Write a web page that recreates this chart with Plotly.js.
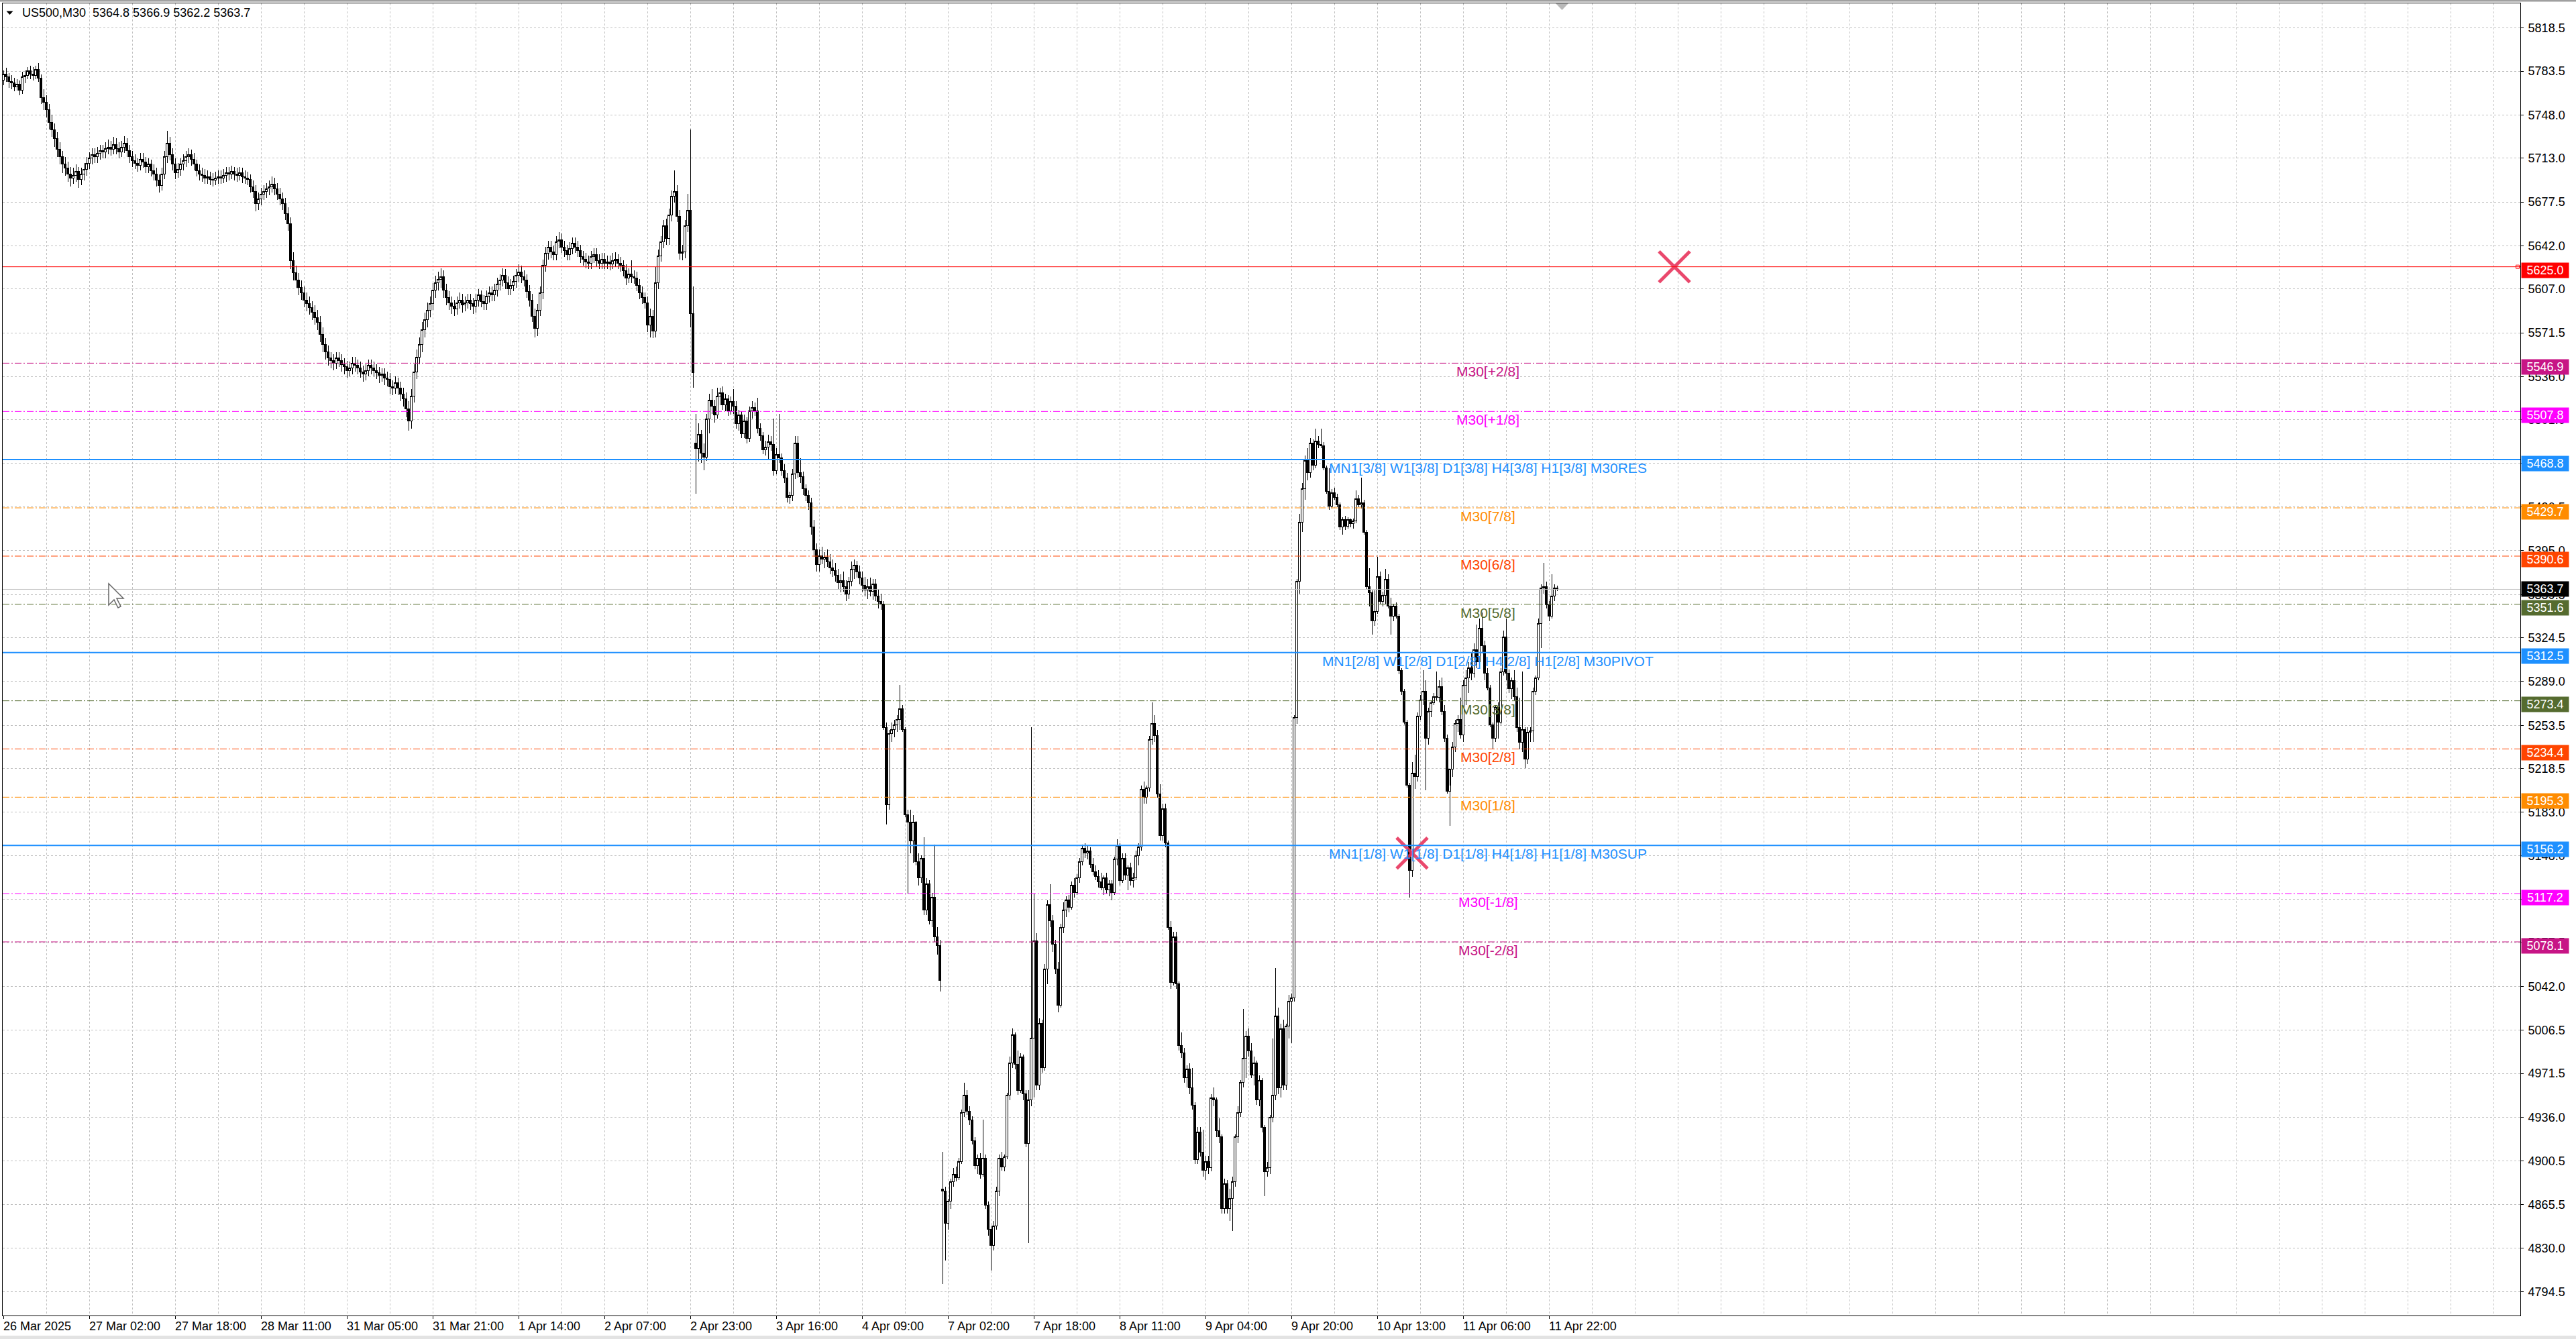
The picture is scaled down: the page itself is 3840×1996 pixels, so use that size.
<!DOCTYPE html>
<html><head><meta charset="utf-8">
<script src="https://cdn.plot.ly/plotly-3.0.1.min.js"></script>
<style>html,body{margin:0;padding:0;background:#fff;overflow:hidden}#chart{width:3840px;height:1996px}
#chart path.box{shape-rendering:crispEdges}</style>
</head><body><div id="chart"></div>
<script>
// ---------------- DATA (US500, M30, bars) ----------------
const opens = [
5776,5781,5779,5775,5774,5771,5773,5768,5779,5780,
5784,5781,5780,5785,5778,5762,5758,5752,5742,5736,
5729,5720,5714,5708,5705,5700,5697,5699,5702,5696,
5700,5704,5709,5713,5716,5714,5717,5719,5718,5721,
5722,5720,5724,5721,5718,5722,5725,5719,5714,5711,
5709,5707,5712,5710,5706,5708,5703,5700,5695,5691,
5700,5714,5725,5716,5708,5701,5704,5708,5711,5714,
5716,5712,5708,5703,5700,5699,5697,5698,5696,5695,
5697,5698,5697,5699,5701,5700,5702,5700,5699,5701,
5698,5697,5696,5690,5686,5676,5680,5684,5686,5688,
5690,5692,5688,5684,5680,5676,5668,5660,5630,5620,
5614,5608,5604,5598,5595,5592,5588,5584,5580,5570,
5562,5556,5551,5549,5547,5551,5549,5546,5544,5541,
5543,5547,5545,5543,5540,5538,5541,5545,5543,5541,
5539,5537,5538,5535,5534,5528,5527,5531,5527,5522,
5518,5510,5500,5520,5540,5552,5562,5574,5582,5590,
5595,5606,5612,5615,5617,5606,5600,5596,5593,5591,
5596,5598,5594,5596,5598,5595,5593,5598,5602,5597,
5595,5601,5604,5602,5606,5611,5614,5618,5612,5607,
5610,5613,5618,5621,5617,5614,5605,5598,5585,5575,
5590,5604,5626,5636,5641,5637,5635,5645,5647,5641,
5638,5635,5640,5644,5641,5638,5633,5631,5629,5628,
5633,5635,5630,5628,5631,5628,5629,5627,5630,5631,
5628,5626,5622,5616,5619,5617,5616,5610,5604,5600,
5596,5578,5585,5573,5612,5634,5645,5658,5648,5667,
5682,5686,5666,5636,5637,5658,5671,5587,5482,5478,
5489,5474,5471,5502,5517,5512,5505,5520,5523,5513,
5518,5508,5516,5512,5498,5505,5490,5500,5486,5508,
5511,5508,5494,5488,5477,5479,5483,5481,5460,5473,
5470,5460,5454,5438,5440,5457,5482,5458,5455,5445,
5440,5434,5414,5396,5384,5391,5388,5390,5386,5381,
5379,5375,5369,5371,5366,5360,5370,5380,5383,5378,
5373,5367,5363,5366,5362,5368,5358,5354,5352,5252,
5189,5247,5250,5254,5258,5267,5250,5181,5175,5160,
5175,5143,5130,5146,5104,5125,5095,5114,5082,5075,
4878,4876,4850,4868,4884,4890,4887,4900,4940,4954,
4941,4934,4917,4897,4903,4890,4903,4865,4845,4832,
4848,4876,4903,4896,4904,4954,4980,5003,4979,4958,
4985,4955,4915,4950,5000,5079,4962,5012,4976,5056,
5108,5095,5076,5056,5027,5090,5104,5112,5106,5124,
5118,5130,5143,5154,5150,5152,5141,5135,5131,5127,
5122,5130,5120,5125,5118,5145,5156,5128,5146,5132,
5138,5128,5130,5148,5155,5202,5195,5203,5242,5255,
5245,5198,5164,5186,5158,5090,5045,5082,5044,4994,
4988,4968,4975,4960,4946,4902,4924,4908,4893,4900,
4895,4952,4950,4925,4920,4862,4882,4862,4870,4884,
4920,4940,4964,4984,5002,4990,4970,4980,4950,4966,
4928,4892,4895,4936,4954,5018,4960,5008,4962,5010,
5030,5033,5260,5370,5418,5445,5468,5458,5482,5464,
5484,5481,5480,5462,5443,5431,5442,5438,5432,5414,
5420,5415,5420,5417,5419,5437,5432,5434,5410,5366,
5361,5338,5346,5374,5354,5359,5372,5350,5342,5350,
5342,5298,5281,5256,5205,5136,5215,5212,5261,5274,
5281,5243,5265,5272,5277,5276,5285,5265,5243,5200,
5218,5236,5255,5258,5246,5286,5292,5300,5296,5315,
5305,5332,5318,5296,5284,5254,5243,5268,5256,5297,
5325,5296,5283,5290,5277,5252,5240,5250,5226,5248,
5249,5281,5292,5336,5365,5366,5351,5342,5358,5364.8];
const highs = [
5784,5786,5782,5780,5778,5777,5776,5783,5784,5787,
5788,5787,5788,5790,5781,5769,5764,5757,5748,5741,
5734,5726,5719,5714,5710,5706,5705,5708,5706,5705,
5709,5714,5718,5721,5721,5722,5724,5724,5726,5728,
5727,5730,5729,5726,5727,5731,5729,5724,5719,5716,
5713,5717,5717,5714,5713,5712,5708,5705,5700,5705,
5719,5735,5730,5721,5713,5709,5713,5716,5719,5721,
5720,5717,5712,5708,5705,5704,5703,5702,5701,5702,
5703,5703,5704,5706,5706,5707,5706,5705,5706,5705,
5703,5702,5700,5695,5691,5685,5689,5691,5693,5695,
5698,5697,5693,5689,5685,5681,5673,5665,5637,5626,
5620,5614,5609,5604,5601,5597,5594,5590,5585,5576,
5567,5561,5556,5554,5556,5556,5554,5551,5549,5548,
5552,5552,5550,5548,5545,5546,5550,5550,5548,5546,
5544,5543,5543,5540,5539,5533,5536,5535,5532,5527,
5523,5516,5526,5546,5558,5568,5580,5588,5596,5601,
5612,5618,5621,5624,5622,5611,5605,5601,5598,5601,
5604,5603,5601,5603,5603,5600,5603,5607,5606,5602,
5606,5609,5609,5611,5616,5619,5624,5623,5617,5615,
5618,5623,5627,5626,5622,5619,5610,5603,5591,5595,
5609,5631,5641,5646,5646,5642,5650,5653,5652,5646,
5643,5645,5649,5649,5646,5643,5638,5636,5634,5638,
5640,5640,5635,5636,5636,5634,5634,5636,5637,5635,
5633,5630,5627,5624,5630,5622,5621,5615,5609,5604,
5601,5591,5590,5625,5639,5650,5663,5664,5672,5687,
5703,5691,5671,5643,5663,5684,5736,5609,5506,5498,
5493,5482,5506,5522,5526,5517,5527,5527,5528,5522,
5521,5520,5526,5516,5509,5508,5505,5503,5512,5516,
5515,5519,5498,5491,5484,5489,5488,5502,5478,5506,
5474,5465,5458,5443,5461,5488,5488,5470,5459,5449,
5444,5438,5420,5401,5396,5398,5394,5396,5392,5388,
5385,5380,5376,5378,5371,5374,5386,5388,5387,5383,
5378,5374,5372,5373,5372,5372,5364,5360,5354,5256,
5250,5256,5258,5262,5286,5270,5252,5185,5185,5181,
5176,5150,5148,5163,5130,5128,5118,5157,5090,5080,
4908,4880,4870,4886,4895,4896,4903,4942,4964,4958,
4945,4937,4920,4906,4907,4934,4906,4868,4848,4852,
4880,4906,4908,4906,4956,4985,5008,5005,4990,4988,
4987,4958,4958,5252,5117,5085,5016,5015,5060,5112,
5125,5100,5080,5062,5093,5110,5115,5116,5127,5130,
5133,5146,5157,5158,5156,5155,5146,5140,5136,5134,
5132,5134,5128,5128,5147,5161,5158,5150,5150,5140,
5142,5134,5152,5158,5205,5208,5205,5245,5272,5262,
5250,5206,5190,5190,5160,5095,5086,5086,5046,5005,
4992,4978,4980,4976,4948,4928,4928,4926,4905,4905,
4955,4960,4952,4935,4922,4886,4885,4878,4888,4922,
4945,4966,5024,5006,5008,4996,4985,4982,4970,4968,
4930,4900,4938,5000,5057,5025,5012,5015,5012,5035,
5036,5262,5372,5425,5450,5472,5478,5486,5485,5494,
5488,5494,5483,5464,5462,5445,5446,5441,5434,5422,
5423,5422,5421,5421,5444,5440,5454,5436,5412,5381,
5363,5363,5390,5378,5362,5380,5376,5357,5352,5353,
5344,5300,5283,5258,5207,5224,5230,5264,5278,5298,
5290,5268,5274,5280,5297,5290,5292,5270,5246,5205,
5240,5258,5262,5276,5290,5298,5305,5312,5320,5335,
5340,5345,5322,5300,5286,5256,5270,5272,5300,5330,
5340,5299,5292,5298,5284,5276,5297,5252,5252,5252,
5284,5294,5340,5368,5385,5370,5354,5376,5368,5366.9];
const lows = [
5772,5775,5770,5769,5767,5768,5764,5765,5774,5777,
5777,5776,5777,5775,5757,5752,5746,5736,5730,5722,
5714,5708,5701,5699,5694,5690,5692,5694,5689,5691,
5695,5699,5704,5708,5709,5709,5712,5713,5713,5716,
5715,5716,5716,5713,5714,5717,5714,5709,5706,5704,
5702,5703,5705,5701,5701,5698,5695,5690,5685,5687,
5696,5709,5711,5703,5696,5697,5699,5703,5706,5709,
5707,5703,5698,5695,5694,5692,5692,5691,5690,5691,
5692,5692,5693,5694,5695,5696,5695,5694,5695,5693,
5692,5691,5685,5681,5670,5671,5675,5679,5681,5683,
5685,5683,5679,5675,5671,5663,5654,5623,5614,5608,
5602,5598,5592,5589,5586,5582,5578,5574,5564,5556,
5550,5545,5543,5541,5542,5544,5540,5538,5535,5536,
5538,5540,5538,5535,5532,5533,5536,5538,5536,5534,
5531,5532,5529,5528,5522,5521,5522,5521,5516,5512,
5503,5492,5494,5515,5534,5546,5556,5568,5576,5584,
5590,5600,5606,5608,5600,5594,5590,5587,5585,5586,
5591,5588,5589,5591,5590,5587,5588,5593,5592,5590,
5590,5596,5597,5597,5601,5606,5609,5607,5602,5602,
5605,5608,5613,5612,5609,5600,5593,5580,5568,5569,
5585,5599,5621,5631,5632,5630,5630,5640,5636,5633,
5630,5630,5635,5636,5633,5628,5626,5624,5623,5623,
5628,5625,5623,5623,5623,5623,5622,5623,5625,5623,
5621,5617,5610,5612,5612,5611,5605,5599,5595,5591,
5572,5568,5567,5568,5607,5629,5640,5643,5643,5662,
5677,5661,5631,5630,5632,5653,5576,5527,5441,5467,
5466,5460,5468,5490,5506,5499,5502,5513,5509,5508,
5504,5505,5506,5494,5492,5486,5486,5482,5483,5502,
5504,5490,5484,5473,5472,5469,5476,5456,5457,5466,
5456,5450,5434,5433,5435,5453,5454,5450,5440,5435,
5428,5408,5390,5378,5378,5384,5381,5382,5376,5374,
5370,5364,5361,5362,5354,5356,5366,5372,5373,5368,
5362,5358,5356,5358,5355,5354,5348,5347,5250,5173,
5185,5240,5244,5248,5250,5248,5179,5117,5150,5142,
5140,5124,5126,5100,5100,5092,5090,5078,5068,5038,
4801,4820,4845,4862,4880,4884,4885,4898,4936,4938,
4930,4914,4894,4890,4886,4888,4862,4840,4812,4828,
4845,4872,4893,4892,4902,4950,4976,4975,4954,4956,
4950,4912,4834,4945,4952,4958,4958,4972,4974,5044,
5090,5070,5052,5021,5025,5085,5098,5102,5104,5114,
5116,5126,5140,5146,5145,5138,5132,5128,5122,5120,
5116,5117,5115,5112,5116,5140,5124,5126,5128,5120,
5124,5122,5128,5140,5152,5190,5190,5200,5238,5240,
5195,5160,5160,5155,5088,5040,5043,5040,4990,4984,
4964,4960,4955,4942,4898,4898,4904,4888,4885,4890,
4892,4945,4920,4915,4858,4858,4858,4852,4844,4880,
4915,4936,4960,4968,4985,4968,4962,4946,4945,4924,
4872,4888,4890,4932,4950,4955,4952,4958,4958,5000,
4996,5030,5255,5360,5410,5436,5452,5454,5460,5462,
5478,5478,5460,5441,5428,5429,5436,5430,5412,5408,
5412,5413,5414,5413,5417,5430,5429,5408,5364,5350,
5327,5334,5344,5352,5350,5352,5348,5327,5338,5340,
5295,5278,5254,5203,5114,5131,5202,5208,5258,5270,
5201,5238,5260,5270,5274,5272,5262,5240,5198,5172,
5212,5232,5248,5243,5240,5270,5280,5290,5292,5300,
5302,5312,5290,5282,5252,5234,5240,5243,5254,5294,
5290,5280,5275,5274,5248,5234,5232,5219,5222,5240,
5240,5278,5290,5316,5360,5348,5338,5340,5354,5362.2];
const closes = [
5781,5779,5775,5774,5771,5773,5768,5779,5780,5784,
5781,5780,5785,5778,5762,5758,5752,5742,5736,5729,
5720,5714,5708,5705,5700,5697,5699,5702,5696,5700,
5704,5709,5713,5716,5714,5717,5719,5718,5721,5722,
5720,5724,5721,5718,5722,5725,5719,5714,5711,5709,
5707,5712,5710,5706,5708,5703,5700,5695,5691,5700,
5714,5725,5716,5708,5701,5704,5708,5711,5714,5716,
5712,5708,5703,5700,5699,5697,5698,5696,5695,5697,
5698,5697,5699,5701,5700,5702,5700,5699,5701,5698,
5697,5696,5690,5686,5676,5680,5684,5686,5688,5690,
5692,5688,5684,5680,5676,5668,5660,5630,5620,5614,
5608,5604,5598,5595,5592,5588,5584,5580,5570,5562,
5556,5551,5549,5547,5551,5549,5546,5544,5541,5543,
5547,5545,5543,5540,5538,5541,5545,5543,5541,5539,
5537,5538,5535,5534,5528,5527,5531,5527,5522,5518,
5510,5500,5520,5540,5552,5562,5574,5582,5590,5595,
5606,5612,5615,5617,5606,5600,5596,5593,5591,5596,
5598,5594,5596,5598,5595,5593,5598,5602,5597,5595,
5601,5604,5602,5606,5611,5614,5618,5612,5607,5610,
5613,5618,5621,5617,5614,5605,5598,5585,5575,5590,
5604,5626,5636,5641,5637,5635,5645,5647,5641,5638,
5635,5640,5644,5641,5638,5633,5631,5629,5628,5633,
5635,5630,5628,5631,5628,5629,5627,5630,5631,5628,
5626,5622,5616,5619,5617,5616,5610,5604,5600,5596,
5578,5585,5573,5612,5634,5645,5658,5648,5667,5682,
5686,5666,5636,5637,5658,5671,5587,5539,5478,5489,
5474,5471,5502,5517,5512,5505,5520,5523,5513,5518,
5508,5516,5512,5498,5505,5490,5500,5486,5508,5511,
5508,5494,5488,5477,5479,5483,5481,5460,5473,5470,
5460,5454,5438,5440,5457,5482,5458,5455,5445,5440,
5434,5414,5396,5384,5391,5388,5390,5386,5381,5379,
5375,5369,5371,5366,5360,5370,5380,5383,5378,5373,
5367,5363,5366,5362,5368,5358,5354,5352,5252,5189,
5247,5250,5254,5258,5267,5250,5181,5175,5160,5175,
5143,5130,5146,5104,5125,5095,5114,5082,5075,5047,
4876,4850,4868,4884,4890,4887,4900,4940,4954,4941,
4934,4917,4897,4903,4890,4903,4865,4845,4832,4848,
4876,4903,4896,4904,4954,4980,5003,4979,4958,4985,
4955,4915,4950,5000,5079,4962,5012,4976,5056,5108,
5095,5076,5056,5027,5090,5104,5112,5106,5124,5118,
5130,5143,5154,5150,5152,5141,5135,5131,5127,5122,
5130,5120,5125,5118,5145,5156,5128,5146,5132,5138,
5128,5130,5148,5155,5202,5195,5203,5242,5255,5245,
5198,5164,5186,5158,5090,5045,5082,5044,4994,4988,
4968,4975,4960,4946,4902,4924,4908,4893,4900,4895,
4952,4950,4925,4920,4862,4882,4862,4870,4884,4920,
4940,4964,4984,5002,4990,4970,4980,4950,4966,4928,
4892,4895,4936,4954,5018,4960,5008,4962,5010,5030,
5033,5260,5370,5418,5445,5468,5458,5482,5464,5484,
5481,5480,5462,5443,5431,5442,5438,5432,5414,5420,
5415,5420,5417,5419,5437,5432,5434,5410,5366,5361,
5338,5346,5374,5354,5359,5372,5350,5342,5350,5342,
5298,5281,5256,5205,5136,5215,5212,5261,5274,5281,
5243,5265,5272,5277,5276,5285,5265,5243,5200,5218,
5236,5255,5258,5246,5286,5292,5300,5296,5315,5305,
5332,5318,5296,5284,5254,5243,5268,5256,5297,5325,
5296,5283,5290,5277,5252,5240,5250,5226,5248,5249,
5281,5292,5336,5365,5366,5351,5342,5358,5364.8,5363.7];

// time-axis labels (bar index of each label, every 32 bars)
const timeLabels = ['26 Mar 2025','27 Mar 02:00','27 Mar 18:00','28 Mar 11:00','31 Mar 05:00','31 Mar 21:00',
  '1 Apr 14:00','2 Apr 07:00','2 Apr 23:00','3 Apr 16:00','4 Apr 09:00','7 Apr 02:00','7 Apr 18:00',
  '8 Apr 11:00','9 Apr 04:00','9 Apr 20:00','10 Apr 13:00','11 Apr 06:00','11 Apr 22:00'];
const timeLabelBars = [0,32,64,96,128,160,192,224,256,288,320,352,384,416,448,480,512,544,576];

// price-axis tick labels
const priceTicks = [5818.5,5783.5,5748.0,5713.0,5677.5,5642.0,5607.0,5571.5,5536.0,5501.0,5466.0,5430.5,
  5395.0,5359.5,5324.5,5289.0,5253.5,5218.5,5183.0,5148.0,5112.5,5077.5,5042.0,5006.5,4971.5,4936.0,
  4900.5,4865.5,4830.0,4794.5];

// Murrey-math / horizontal levels
const levelValues = [5625.0,5546.9,5507.8,5468.8,5429.7,5390.6,5351.6,5312.5,5273.4,5234.4,5195.3,5156.2,5117.2,5078.1];
const levelNames = ['','M30[+2/8]','M30[+1/8]','MN1[3/8] W1[3/8] D1[3/8] H4[3/8] H1[3/8] M30RES','M30[7/8]',
  'M30[6/8]','M30[5/8]','MN1[2/8] W1[2/8] D1[2/8] H4[2/8] H1[2/8] M30PIVOT','M30[3/8]','M30[2/8]','M30[1/8]',
  'MN1[1/8] W1[1/8] D1[1/8] H4[1/8] H1[1/8] M30SUP','M30[-1/8]','M30[-2/8]'];
const currentPrice = 5363.7;

// cross markers (bar index, price)
const crossBars = [622.75, 525];
const crossPrices = [5625.0, 5150.0];

// ---------------- STYLE ----------------
const levelColors = ['#FF0000','#C71585','#FF00FF','#1E90FF','#FF8C00','#FF4500','#556B2F','#1E90FF',
  '#556B2F','#FF4500','#FF8C00','#1E90FF','#FF00FF','#C71585'];
const levelKinds = ['solid','dd','dd','blue','dd','dd','dd','blue','dd','dd','dd','blue','dd','dd'];

const FONT = 'Liberation Sans, Arial, Helvetica, sans-serif';
const W = 3840, H = 1996, PL = 4, PR = 3757, PT = 5, PB = 1961;
const pw = PR - PL, ph = PB - PT;
const pxX = px => (px - PL) / pw;
const pxY = py => (PB - py) / ph;
const levelTextBar = 553.3;

const barIdx = opens.map((_, i) => i);
const n = opens.length;

const traces = [
  {
    type: 'candlestick', x: barIdx, open: opens, high: highs, low: lows, close: closes,
    increasing: { line: { color: '#000', width: 1 }, fillcolor: '#fff' },
    decreasing: { line: { color: '#000', width: 1 }, fillcolor: '#000' },
    whiskerwidth: 0, hoverinfo: 'skip', showlegend: false
  },
  {
    type: 'scatter', mode: 'markers', x: crossBars, y: crossPrices, hoverinfo: 'skip',
    marker: { symbol: 'x-thin', size: 46, color: 'rgba(232,52,92,0.9)', line: { width: 5, color: 'rgba(232,52,92,0.9)' } },
    cliponaxis: false, showlegend: false
  },
  {
    type: 'scatter', mode: 'markers', x: [937], y: [levelValues[0]], hoverinfo: 'skip',
    marker: { symbol: 'square-open', size: 5, color: '#FF0000', line: { width: 1, color: '#FF0000' } },
    cliponaxis: false, showlegend: false
  }
];

const shapes = [];
levelValues.forEach((v, i) => {
  const k = levelKinds[i];
  shapes.push({
    type: 'line', xref: 'paper', x0: 0, x1: 1, yref: 'y', y0: v, y1: v,
    line: { color: levelColors[i], width: k === 'blue' ? 2 : 1, dash: k === 'dd' ? '10px,3px,2px,3px' : 'solid' }
  });
});
shapes.push({ type: 'line', xref: 'paper', x0: 0, x1: 1, yref: 'y', y0: currentPrice, y1: currentPrice,
  line: { color: '#C0C0C0', width: 1 } });
shapes.push({ type: 'rect', xref: 'paper', yref: 'paper', x0: pxX(0), x1: pxX(W), y0: pxY(0), y1: pxY(2.5),
  fillcolor: '#a0a0a0', line: { width: 0 } });
shapes.push({ type: 'rect', xref: 'paper', yref: 'paper', x0: pxX(0), x1: pxX(W), y0: pxY(1991), y1: pxY(1996),
  fillcolor: '#e3e3e3', line: { width: 0 } });
shapes.push({ type: 'path', xref: 'paper', yref: 'paper',
  path: `M ${pxX(9.5)} ${pxY(16.5)} L ${pxX(19.5)} ${pxY(16.5)} L ${pxX(14.5)} ${pxY(22)} Z`,
  fillcolor: '#000', line: { width: 0 } });
shapes.push({ type: 'path', xref: 'paper', yref: 'paper',
  path: `M ${pxX(2319)} ${pxY(5)} L ${pxX(2338)} ${pxY(5)} L ${pxX(2328.5)} ${pxY(15)} Z`,
  fillcolor: '#b8b8b8', line: { width: 0 } });
(function () {
  const ox = 162, oy = 870;
  const pts = [[0,0],[0,32],[8,24],[14,36],[18,34],[12,22],[22,22]];
  const p = pts.map((q, j) => (j ? 'L ' : 'M ') + pxX(ox + q[0]) + ' ' + pxY(oy + q[1])).join(' ') + ' Z';
  shapes.push({ type: 'path', xref: 'paper', yref: 'paper', path: p, fillcolor: '#fff', line: { color: '#666', width: 1.5 } });
})();

const annotations = [];
annotations.push({ xref: 'paper', yref: 'paper', x: pxX(31), y: pxY(19.5), xanchor: 'left', yanchor: 'middle',
  showarrow: false, font: { family: FONT, size: 18, color: '#000' },
  text: 'US500,M30\u00a0\u00a0' + [opens[n-1], highs[n-1], lows[n-1], closes[n-1]].map(v => v.toFixed(1)).join(' ') });
timeLabels.forEach((t, i) => {
  annotations.push({ xref: 'x', yref: 'paper', x: timeLabelBars[i], y: 0, xanchor: 'left', yanchor: 'top',
    xshift: -2, yshift: -4, showarrow: false, text: t, font: { family: FONT, size: 18, color: '#000' } });
});
levelValues.forEach((v, i) => {
  if (levelNames[i]) {
    annotations.push({ xref: 'x', yref: 'y', x: levelTextBar, y: v, xanchor: 'center', yanchor: 'top', yshift: 1,
      showarrow: false, text: levelNames[i], font: { family: FONT, size: 21, color: levelColors[i] } });
  }
  annotations.push({ xref: 'paper', yref: 'y', x: pxX(3758), y: v, xanchor: 'left', yanchor: 'middle', yshift: -5.5,
    showarrow: false, text: v.toFixed(1), bgcolor: levelColors[i], width: 70, height: 22, borderpad: 0, align: 'center',
    font: { family: FONT, size: 18, color: '#fff' } });
});
annotations.push({ xref: 'paper', yref: 'y', x: pxX(3758), y: currentPrice, xanchor: 'left', yanchor: 'middle',
  showarrow: false, text: currentPrice.toFixed(1), bgcolor: '#000', width: 70, height: 22, borderpad: 0, align: 'center',
  font: { family: FONT, size: 18, color: '#fff' } });

const gridStyle = { showgrid: true, gridcolor: '#c0c0c0', gridwidth: 1, griddash: '3px,3px' };

const layout = {
  width: W, height: H, margin: { l: PL, r: W - PR, t: PT, b: H - PB, pad: 0 },
  paper_bgcolor: '#fff', plot_bgcolor: '#fff', showlegend: false,
  font: { family: FONT, size: 18, color: '#000' },
  boxgap: 0.1, boxgroupgap: 0,
  xaxis: Object.assign({
    type: 'linear', range: [-0.25, 938], fixedrange: true, zeroline: false,
    tickmode: 'array', tickvals: timeLabelBars, ticktext: timeLabels.map(() => ''), showticklabels: false,
    ticks: 'outside', ticklen: 4, tickcolor: '#000', tickwidth: 1,
    showline: true, mirror: true, linecolor: '#000', linewidth: 1,
    rangeslider: { visible: false },
    minor: { tickmode: 'linear', tick0: 0, dtick: 16, showgrid: true, gridcolor: '#c0c0c0', griddash: '3px,3px', gridwidth: 1, ticks: '' }
  }, gridStyle),
  yaxis: Object.assign({
    side: 'right', range: [4775.4, 5838.4], fixedrange: true, zeroline: false,
    tickmode: 'array', tickvals: priceTicks, ticktext: priceTicks.map(v => v.toFixed(1)),
    ticks: 'outside', ticklen: 4, tickcolor: '#000', tickwidth: 1, ticklabelstandoff: 3,
    tickfont: { family: FONT, size: 18, color: '#000' },
    showline: true, mirror: true, linecolor: '#000', linewidth: 1
  }, gridStyle),
  shapes: shapes, annotations: annotations, hovermode: false, dragmode: false
};

Plotly.newPlot('chart', traces, layout, { staticPlot: true, displayModeBar: false });
</script>
</body></html>
